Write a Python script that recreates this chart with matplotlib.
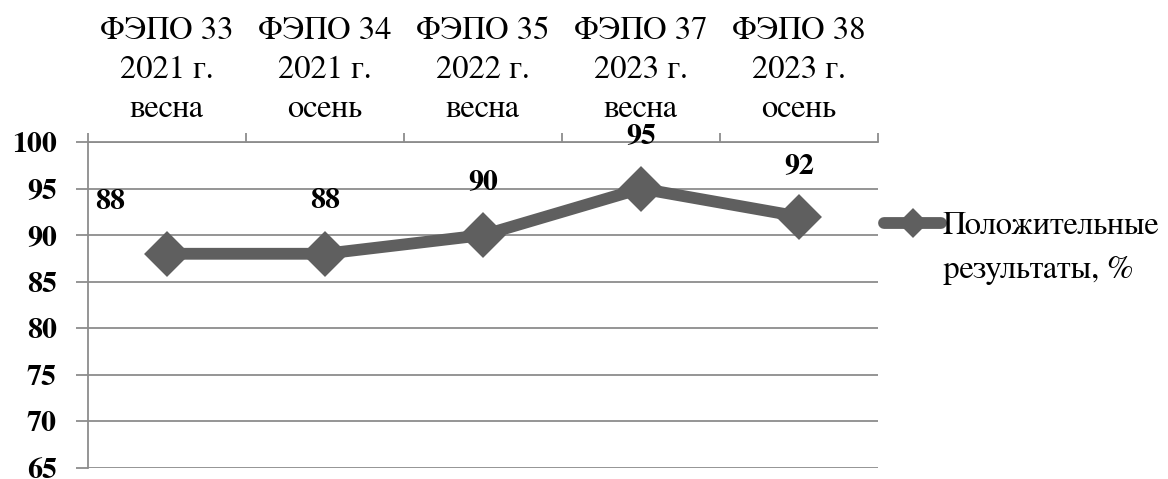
import matplotlib
matplotlib.use("Agg")
import matplotlib.pyplot as plt
from matplotlib.ticker import FixedLocator

# данные
categories = ["ФЭПО 33\n2021 г.\nвесна", "ФЭПО 34\n2021 г.\nосень", "ФЭПО 35\n2022 г.\nвесна",
              "ФЭПО 37\n2023 г.\nвесна", "ФЭПО 38\n2023 г.\nосень"]
values = [88, 88, 90, 95, 92]
yticks = [65, 70, 75, 80, 85, 90, 95, 100]
series_name = "Положительные"
series_name2 = "результаты, %"

plt.rcParams['font.family'] = ['FreeSerif', 'Liberation Serif', 'DejaVu Serif']
fs = 21.5      # жирные подписи
fs_reg = 23.5  # обычный текст
line_color = "#5f5f5f"
grid_color = "#8c8c8c"

fig = plt.figure(figsize=(11.68, 4.79), dpi=100)
ax = fig.add_axes([88 / 1168, 1 - 468 / 479, (878 - 88) / 1168, (468 - 142) / 479])

x = list(range(len(values)))
ax.plot(x, values, color=line_color, lw=8.5, marker="D", ms=20, mew=3,
        mec=line_color, mfc=line_color, solid_joinstyle="round", solid_capstyle="round",
        label=series_name, zorder=3, clip_on=False)

# подписи значений
offsets = [(-41, 37), (0, 38), (0, 38), (0, 38), (0, 36)]
for xi, v, off in zip(x, values, offsets):
    ax.annotate(str(v), (xi, v), xytext=off, textcoords="offset points",
                ha="center", va="center", fontsize=fs, fontweight="bold")

ax.set_xlim(-0.5, len(values) - 0.5)
ax.set_ylim(65, 100)
ax.set_yticks(yticks)
ax.yaxis.grid(True, color=grid_color, lw=1.3)
ax.set_axisbelow(True)
for t in ax.get_yticklabels():
    t.set_fontweight("bold")
ax.tick_params(axis="y", labelsize=fs, length=8.5, width=1.3, color=grid_color, pad=14)

# ось X сверху: деления на границах, подписи по центрам
ax.xaxis.tick_top()
ax.xaxis.set_major_locator(FixedLocator([i - 0.5 for i in range(len(values) + 1)]))
ax.xaxis.set_minor_locator(FixedLocator(x))
ax.set_xticklabels([])
ax.set_xticklabels(categories, minor=True, fontsize=fs_reg, linespacing=1.42)
ax.tick_params(axis="x", which="major", length=6.5, width=1.3, color=grid_color, top=True, bottom=False)
ax.tick_params(axis="x", which="minor", length=0, pad=13, top=True, bottom=False)

for side in ["right", "bottom"]:
    ax.spines[side].set_visible(False)
for side in ["left", "top"]:
    ax.spines[side].set_color(grid_color)
    ax.spines[side].set_linewidth(1.3)

leg = fig.legend(loc="center left", bbox_to_anchor=(884 / 1168, 1 - 226 / 479),
                 frameon=False, fontsize=fs_reg, handlelength=1.75, handletextpad=0.05,
                 markerscale=0.62, borderaxespad=0, borderpad=0)

fig.canvas.draw()
bb = leg.get_texts()[0].get_window_extent()
fig.text(bb.x0 / 1168, (bb.y0 - 44) / 479, series_name2, fontsize=fs_reg, ha="left", va="bottom")

fig.savefig("out.png", dpi=100)
